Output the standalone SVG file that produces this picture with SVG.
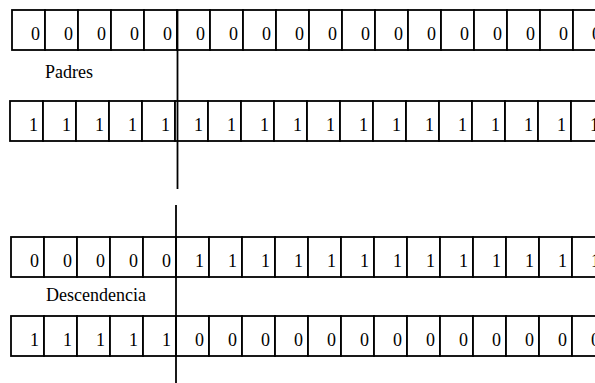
<svg xmlns="http://www.w3.org/2000/svg" width="595" height="383" viewBox="0 0 595 383">
<style>
.cell{fill:#fff;stroke:#000;stroke-width:1.8}
.d{font-family:"Liberation Serif","Times New Roman",serif;font-size:18px;fill:#000;text-anchor:end}
.lbl{font-family:"Liberation Serif","Times New Roman",serif;font-size:18px;fill:#000}
.cut{stroke:#000;stroke-width:1.8;fill:none}
</style>
<rect width="595" height="383" fill="#fff"/>
<g id="padre1">
<rect class="cell" x="12" y="10" width="33" height="40"/><rect class="cell" x="45" y="10" width="33" height="40"/><rect class="cell" x="78" y="10" width="33" height="40"/><rect class="cell" x="111" y="10" width="33" height="40"/><rect class="cell" x="144" y="10" width="33" height="40"/><rect class="cell" x="177" y="10" width="33" height="40"/><rect class="cell" x="210" y="10" width="33" height="40"/><rect class="cell" x="243" y="10" width="33" height="40"/><rect class="cell" x="276" y="10" width="33" height="40"/><rect class="cell" x="309" y="10" width="33" height="40"/><rect class="cell" x="342" y="10" width="33" height="40"/><rect class="cell" x="375" y="10" width="33" height="40"/><rect class="cell" x="408" y="10" width="33" height="40"/><rect class="cell" x="441" y="10" width="33" height="40"/><rect class="cell" x="474" y="10" width="33" height="40"/><rect class="cell" x="507" y="10" width="33" height="40"/><rect class="cell" x="540" y="10" width="33" height="40"/><rect class="cell" x="573" y="10" width="33" height="40"/>
<text class="d" y="40"><tspan x="40">0</tspan><tspan x="73">0</tspan><tspan x="106">0</tspan><tspan x="139">0</tspan><tspan x="172">0</tspan><tspan x="205">0</tspan><tspan x="238">0</tspan><tspan x="271">0</tspan><tspan x="304">0</tspan><tspan x="337">0</tspan><tspan x="370">0</tspan><tspan x="403">0</tspan><tspan x="436">0</tspan><tspan x="469">0</tspan><tspan x="502">0</tspan><tspan x="535">0</tspan><tspan x="568">0</tspan><tspan x="601">0</tspan></text>
</g>
<g id="label-padres"><text class="lbl" x="45" y="78">Padres</text></g>
<g id="padre2">
<rect class="cell" x="10" y="101" width="33" height="40"/><rect class="cell" x="43" y="101" width="33" height="40"/><rect class="cell" x="76" y="101" width="33" height="40"/><rect class="cell" x="109" y="101" width="33" height="40"/><rect class="cell" x="142" y="101" width="33" height="40"/><rect class="cell" x="175" y="101" width="33" height="40"/><rect class="cell" x="208" y="101" width="33" height="40"/><rect class="cell" x="241" y="101" width="33" height="40"/><rect class="cell" x="274" y="101" width="33" height="40"/><rect class="cell" x="307" y="101" width="33" height="40"/><rect class="cell" x="340" y="101" width="33" height="40"/><rect class="cell" x="373" y="101" width="33" height="40"/><rect class="cell" x="406" y="101" width="33" height="40"/><rect class="cell" x="439" y="101" width="33" height="40"/><rect class="cell" x="472" y="101" width="33" height="40"/><rect class="cell" x="505" y="101" width="33" height="40"/><rect class="cell" x="538" y="101" width="33" height="40"/><rect class="cell" x="571" y="101" width="33" height="40"/>
<text class="d" y="131"><tspan x="38">1</tspan><tspan x="71">1</tspan><tspan x="104">1</tspan><tspan x="137">1</tspan><tspan x="170">1</tspan><tspan x="203">1</tspan><tspan x="236">1</tspan><tspan x="269">1</tspan><tspan x="302">1</tspan><tspan x="335">1</tspan><tspan x="368">1</tspan><tspan x="401">1</tspan><tspan x="434">1</tspan><tspan x="467">1</tspan><tspan x="500">1</tspan><tspan x="533">1</tspan><tspan x="566">1</tspan><tspan x="599">1</tspan></text>
</g>
<g id="hijo1">
<rect class="cell" x="11" y="237" width="33" height="40"/><rect class="cell" x="44" y="237" width="33" height="40"/><rect class="cell" x="77" y="237" width="33" height="40"/><rect class="cell" x="110" y="237" width="33" height="40"/><rect class="cell" x="143" y="237" width="33" height="40"/><rect class="cell" x="176" y="237" width="33" height="40"/><rect class="cell" x="209" y="237" width="33" height="40"/><rect class="cell" x="242" y="237" width="33" height="40"/><rect class="cell" x="275" y="237" width="33" height="40"/><rect class="cell" x="308" y="237" width="33" height="40"/><rect class="cell" x="341" y="237" width="33" height="40"/><rect class="cell" x="374" y="237" width="33" height="40"/><rect class="cell" x="407" y="237" width="33" height="40"/><rect class="cell" x="440" y="237" width="33" height="40"/><rect class="cell" x="473" y="237" width="33" height="40"/><rect class="cell" x="506" y="237" width="33" height="40"/><rect class="cell" x="539" y="237" width="33" height="40"/><rect class="cell" x="572" y="237" width="33" height="40"/>
<text class="d" y="267"><tspan x="39">0</tspan><tspan x="72">0</tspan><tspan x="105">0</tspan><tspan x="138">0</tspan><tspan x="171">0</tspan><tspan x="204">1</tspan><tspan x="237">1</tspan><tspan x="270">1</tspan><tspan x="303">1</tspan><tspan x="336">1</tspan><tspan x="369">1</tspan><tspan x="402">1</tspan><tspan x="435">1</tspan><tspan x="468">1</tspan><tspan x="501">1</tspan><tspan x="534">1</tspan><tspan x="567">1</tspan><tspan x="600">1</tspan></text>
</g>
<g id="label-descendencia"><text class="lbl" x="46" y="301">Descendencia</text></g>
<g id="hijo2">
<rect class="cell" x="11" y="316" width="33" height="40"/><rect class="cell" x="44" y="316" width="33" height="40"/><rect class="cell" x="77" y="316" width="33" height="40"/><rect class="cell" x="110" y="316" width="33" height="40"/><rect class="cell" x="143" y="316" width="33" height="40"/><rect class="cell" x="176" y="316" width="33" height="40"/><rect class="cell" x="209" y="316" width="33" height="40"/><rect class="cell" x="242" y="316" width="33" height="40"/><rect class="cell" x="275" y="316" width="33" height="40"/><rect class="cell" x="308" y="316" width="33" height="40"/><rect class="cell" x="341" y="316" width="33" height="40"/><rect class="cell" x="374" y="316" width="33" height="40"/><rect class="cell" x="407" y="316" width="33" height="40"/><rect class="cell" x="440" y="316" width="33" height="40"/><rect class="cell" x="473" y="316" width="33" height="40"/><rect class="cell" x="506" y="316" width="33" height="40"/><rect class="cell" x="539" y="316" width="33" height="40"/><rect class="cell" x="572" y="316" width="33" height="40"/>
<text class="d" y="346"><tspan x="39">1</tspan><tspan x="72">1</tspan><tspan x="105">1</tspan><tspan x="138">1</tspan><tspan x="171">1</tspan><tspan x="204">0</tspan><tspan x="237">0</tspan><tspan x="270">0</tspan><tspan x="303">0</tspan><tspan x="336">0</tspan><tspan x="369">0</tspan><tspan x="402">0</tspan><tspan x="435">0</tspan><tspan x="468">0</tspan><tspan x="501">0</tspan><tspan x="534">0</tspan><tspan x="567">0</tspan><tspan x="600">0</tspan></text>
</g>
<g id="connectors">
<line class="cut" x1="177.5" y1="10" x2="177.5" y2="189"/>
<line class="cut" x1="176" y1="205" x2="176" y2="383"/>
</g>
</svg>
